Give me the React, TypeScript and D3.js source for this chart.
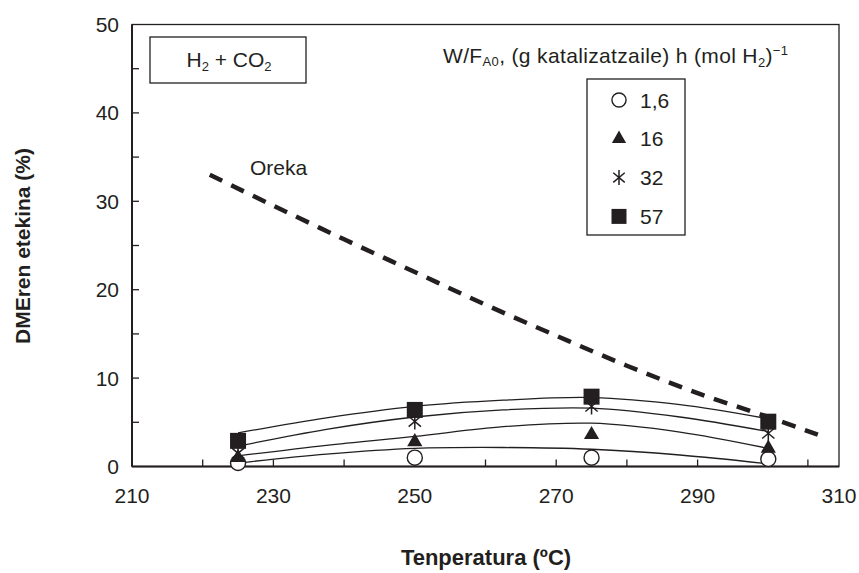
import React from 'react';
import * as d3 from 'd3';

// ---- data ----
const markerTemps = [225, 250, 275, 300];
const values1_6 = [0.4, 1.0, 1.0, 0.85];
const values16 = [1.0, 2.8, 3.6, 2.05];
const values32 = [1.5, 5.1, 6.8, 3.75];
const values57 = [2.9, 6.4, 7.9, 5.07];

const fitTemps = [225, 237.5, 250, 262.5, 275, 287.5, 300];
const fit1_6 = [0.4, 1.4, 2.05, 2.15, 1.95, 1.3, 0.3];
const fit16 = [1.2, 2.4, 3.4, 4.5, 4.9, 3.9, 2.05];
const fit32 = [2.3, 4.2, 5.6, 6.4, 6.6, 5.6, 3.95];
const fit57 = [3.8, 5.5, 6.8, 7.5, 7.8, 7.0, 5.4];

const equilibriumTemps = [221, 230, 240, 250, 260, 270, 280, 290, 300, 307];
const equilibriumValues = [33.0, 29.5, 25.7, 22.0, 18.3, 14.8, 11.4, 8.3, 5.6, 3.6];

const seriesLabels = ['1,6', '16', '32', '57'];
const seriesSymbols = ['circle', 'triangle', 'star', 'square'];

const xTickLabels = [210, 230, 250, 270, 290, 310];
const xTickMarks = [220, 230, 240, 250, 260, 270, 280, 290, 300, 305.6];
const yTickLabels = [0, 10, 20, 30, 40, 50];
const yTickMarks = [5, 10, 15, 20, 25, 30, 35, 40, 45];

const FONT = "'Liberation Sans', Arial, Helvetica, sans-serif";
const INK = '#231f20';
const FS = 21;
const SUB = 13;

function Marker({ kind, x, y, s }: { kind: string; x: number; y: number; s: number }) {
  if (kind === 'circle') {
    return <circle cx={x} cy={y} r={s * 0.47} fill="#fff" stroke={INK} strokeWidth={1.4} />;
  }
  if (kind === 'triangle') {
    const w = s * 0.95;
    const p = d3.symbol().type(d3.symbolTriangle).size((Math.sqrt(3) / 4) * w * w)();
    return <path d={p || ''} transform={`translate(${x},${y})`} fill={INK} />;
  }
  if (kind === 'square') {
    const p = d3.symbol().type(d3.symbolSquare).size(s * s)();
    return <path d={p || ''} transform={`translate(${x},${y})`} fill={INK} />;
  }
  // star: vertical + X
  const r = s * 0.5;
  const angles = [90, 40, -40];
  const path = d3.path();
  angles.forEach((a) => {
    const rad = (a * Math.PI) / 180;
    const dx = Math.cos(rad) * r;
    const dy = Math.sin(rad) * r;
    path.moveTo(x - dx, y - dy);
    path.lineTo(x + dx, y + dy);
  });
  return <path d={path.toString()} stroke={INK} strokeWidth={1.5} fill="none" />;
}

export default function App() {
  const width = 859;
  const height = 573;
  const x = d3.scaleLinear().domain([210, 310]).range([132, 839]);
  const y = d3.scaleLinear().domain([0, 50]).range([466.5, 24.5]);

  const fits = [fit1_6, fit16, fit32, fit57];
  const markers = [values1_6, values16, values32, values57];

  const fitLine = d3
    .line<[number, number]>()
    .x((d) => x(d[0]))
    .y((d) => y(d[1]))
    .curve(d3.curveCatmullRom.alpha(0.5));

  const eqLine = d3
    .line<[number, number]>()
    .x((d) => x(d[0]))
    .y((d) => y(d[1]))
    .curve(d3.curveCatmullRom.alpha(0.5));

  const eqData: [number, number][] = equilibriumTemps.map((t, i) => [t, equilibriumValues[i]]);

  return (
    <svg
      width={width}
      height={height}
      style={{ position: 'absolute', left: 0, top: 0, background: '#fff' }}
      fontFamily={FONT}
    >
      <rect x={0} y={0} width={width} height={height} fill="#fff" />

      {/* frame */}
      <rect x={x(210)} y={y(50)} width={x(310) - x(210)} height={y(0) - y(50)} fill="none" stroke={INK} strokeWidth={1.3} />
      <line x1={x(210)} x2={x(310)} y1={y(0)} y2={y(0)} stroke={INK} strokeWidth={2} />
      <line x1={x(210)} x2={x(210)} y1={y(0)} y2={y(50)} stroke={INK} strokeWidth={2} />

      {/* ticks */}
      {xTickMarks.map((t) => (
        <line key={'xt' + t} x1={x(t)} x2={x(t)} y1={y(0)} y2={y(0) - 7} stroke={INK} strokeWidth={1.3} />
      ))}
      {yTickMarks.map((t) => (
        <line key={'yt' + t} x1={x(210)} x2={x(210) + 7} y1={y(t)} y2={y(t)} stroke={INK} strokeWidth={1.3} />
      ))}

      {/* tick labels */}
      {xTickLabels.map((t) => (
        <text key={'xl' + t} x={x(t)} y={503} textAnchor="middle" fontSize={FS} fill={INK}>
          {t}
        </text>
      ))}
      {yTickLabels.map((t) => (
        <text key={'yl' + t} x={119} y={y(t) + 7.5} textAnchor="end" fontSize={FS} fill={INK}>
          {t}
        </text>
      ))}

      {/* axis titles */}
      <text x={486} y={565} textAnchor="middle" fontSize={22} fontWeight="bold" fill={INK}>
        Tenperatura (ºC)
      </text>
      <text
        transform={`translate(30,246) rotate(-90)`}
        textAnchor="middle"
        fontSize={FS}
        fontWeight="bold"
        fill={INK}
      >
        DMEren etekina (%)
      </text>

      {/* equilibrium dashed line */}
      <path d={eqLine(eqData) || ''} fill="none" stroke={INK} strokeWidth={4.5} strokeDasharray="14 10" />
      <text x={250} y={175} fontSize={FS} fill={INK}>
        Oreka
      </text>

      {/* fitted curves */}
      {fits.map((f, i) => (
        <path
          key={'fit' + i}
          d={fitLine(fitTemps.map((t, j) => [t, f[j]] as [number, number])) || ''}
          fill="none"
          stroke={INK}
          strokeWidth={1.3}
        />
      ))}

      {/* markers */}
      {markers.map((vals, i) =>
        vals.map((v, j) => (
          <Marker key={`m${i}-${j}`} kind={seriesSymbols[i]} x={x(markerTemps[j])} y={y(v)} s={16} />
        ))
      )}

      {/* H2 + CO2 box */}
      <rect x={150} y={37} width={156} height={46} fill="#fff" stroke={INK} strokeWidth={1.3} />
      <text x={229} y={67} textAnchor="middle" fontSize={FS} fill={INK}>
        H<tspan fontSize={SUB} dy={4}>2</tspan>
        <tspan dy={-4}> + CO</tspan>
        <tspan fontSize={SUB} dy={4}>2</tspan>
      </text>

      {/* legend title */}
      <text x={443} y={63} fontSize={FS} fill={INK} letterSpacing={0.35}>
        W/F<tspan fontSize={SUB} dy={3}>A0</tspan>
        <tspan dy={-3}>, (g katalizatzaile) h (mol H</tspan>
        <tspan fontSize={SUB} dy={4}>2</tspan>
        <tspan dy={-4}>)</tspan>
        <tspan fontSize={SUB} dy={-8}>−1</tspan>
      </text>

      {/* legend box */}
      <rect x={587} y={79} width={98} height={156} fill="#fff" stroke={INK} strokeWidth={1.3} />
      {seriesLabels.map((lab, i) => {
        const cy = 100 + i * 38.8;
        return (
          <g key={'lg' + i}>
            <Marker kind={seriesSymbols[i]} x={619} y={cy} s={15} />
            <text x={640} y={cy + 7.5} fontSize={FS} fill={INK}>
              {lab}
            </text>
          </g>
        );
      })}
    </svg>
  );
}
